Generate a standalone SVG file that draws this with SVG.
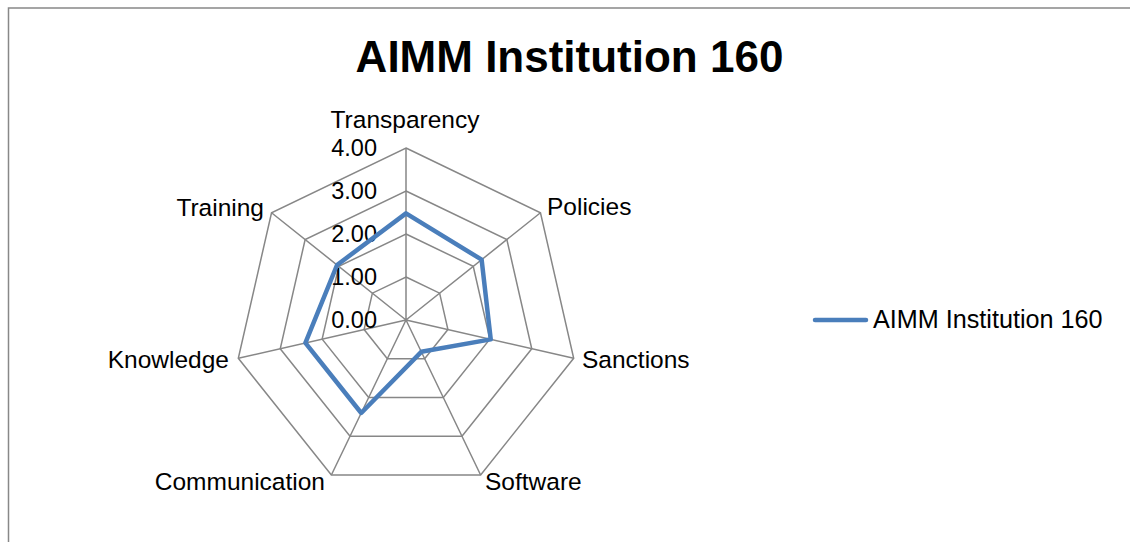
<svg xmlns="http://www.w3.org/2000/svg" width="1130" height="542" viewBox="0 0 1130 542">
<style>
.grid{fill:none;stroke:#878787;stroke-width:1.5}
.lbl{font-family:"Liberation Sans",Arial,sans-serif;font-size:24.5px;fill:#000}
.tick{font-family:"Liberation Sans",Arial,sans-serif;font-size:23.5px;fill:#000;text-anchor:end}
.series{fill:none;stroke:#4A7EBB;stroke-width:4.5;stroke-linejoin:round;stroke-linecap:round}
</style>
<rect x="0" y="0" width="1130" height="542" fill="#fff"/>
<path d="M8.5,560 V8 H1132" fill="none" stroke="#888" stroke-width="1.5"/>
<g id="title"><text x="569.5" y="72" text-anchor="middle" style="font-family:'Liberation Sans',Arial,sans-serif;font-size:44px;font-weight:bold">AIMM Institution 160</text></g>
<g id="grid" transform="translate(406,320)">
<polygon class="grid" points="0,-43 33.62,-26.81 41.92,9.57 18.66,38.74 -18.66,38.74 -41.92,9.57 -33.62,-26.81"/>
<polygon class="grid" points="0,-86 67.24,-53.62 83.84,19.14 37.31,77.48 -37.31,77.48 -83.84,19.14 -67.24,-53.62"/>
<polygon class="grid" points="0,-129 100.86,-80.43 125.77,28.71 55.97,116.23 -55.97,116.23 -125.77,28.71 -100.86,-80.43"/>
<polygon class="grid" points="0,-172 134.47,-107.24 167.69,38.27 74.63,154.97 -74.63,154.97 -167.69,38.27 -134.47,-107.24"/>
<path class="grid" d="M0,0 L0,-172 M0,0 L134.47,-107.24 M0,0 L167.69,38.27 M0,0 L74.63,154.97 M0,0 L-74.63,154.97 M0,0 L-167.69,38.27 M0,0 L-134.47,-107.24"/>
</g>
<g id="ticks">
<text class="tick" x="377" y="156">4.00</text>
<text class="tick" x="377" y="199">3.00</text>
<text class="tick" x="377" y="242">2.00</text>
<text class="tick" x="377" y="285">1.00</text>
<text class="tick" x="377" y="328">0.00</text>
</g>
<g id="axis-labels">
<text class="lbl" x="405" y="128" text-anchor="middle">Transparency</text>
<text class="lbl" x="547" y="215">Policies</text>
<text class="lbl" x="582" y="368">Sanctions</text>
<text class="lbl" x="485" y="490">Software</text>
<text class="lbl" x="325" y="490" text-anchor="end">Communication</text>
<text class="lbl" x="229" y="368" text-anchor="end">Knowledge</text>
<text class="lbl" x="264" y="216" text-anchor="end">Training</text>
</g>
<g id="series" transform="translate(406,320)">
<polygon class="series" points="0,-106.6 75.64,-60.32 84.72,19.34 15.3,31.8 -44.78,92.98 -100.6,22.96 -68.96,-54.99"/>
</g>
<g id="legend">
<line class="series" x1="815" y1="320" x2="866" y2="320"/>
<text class="lbl" x="873" y="328" style="font-size:25.2px">AIMM Institution 160</text>
</g>
</svg>
